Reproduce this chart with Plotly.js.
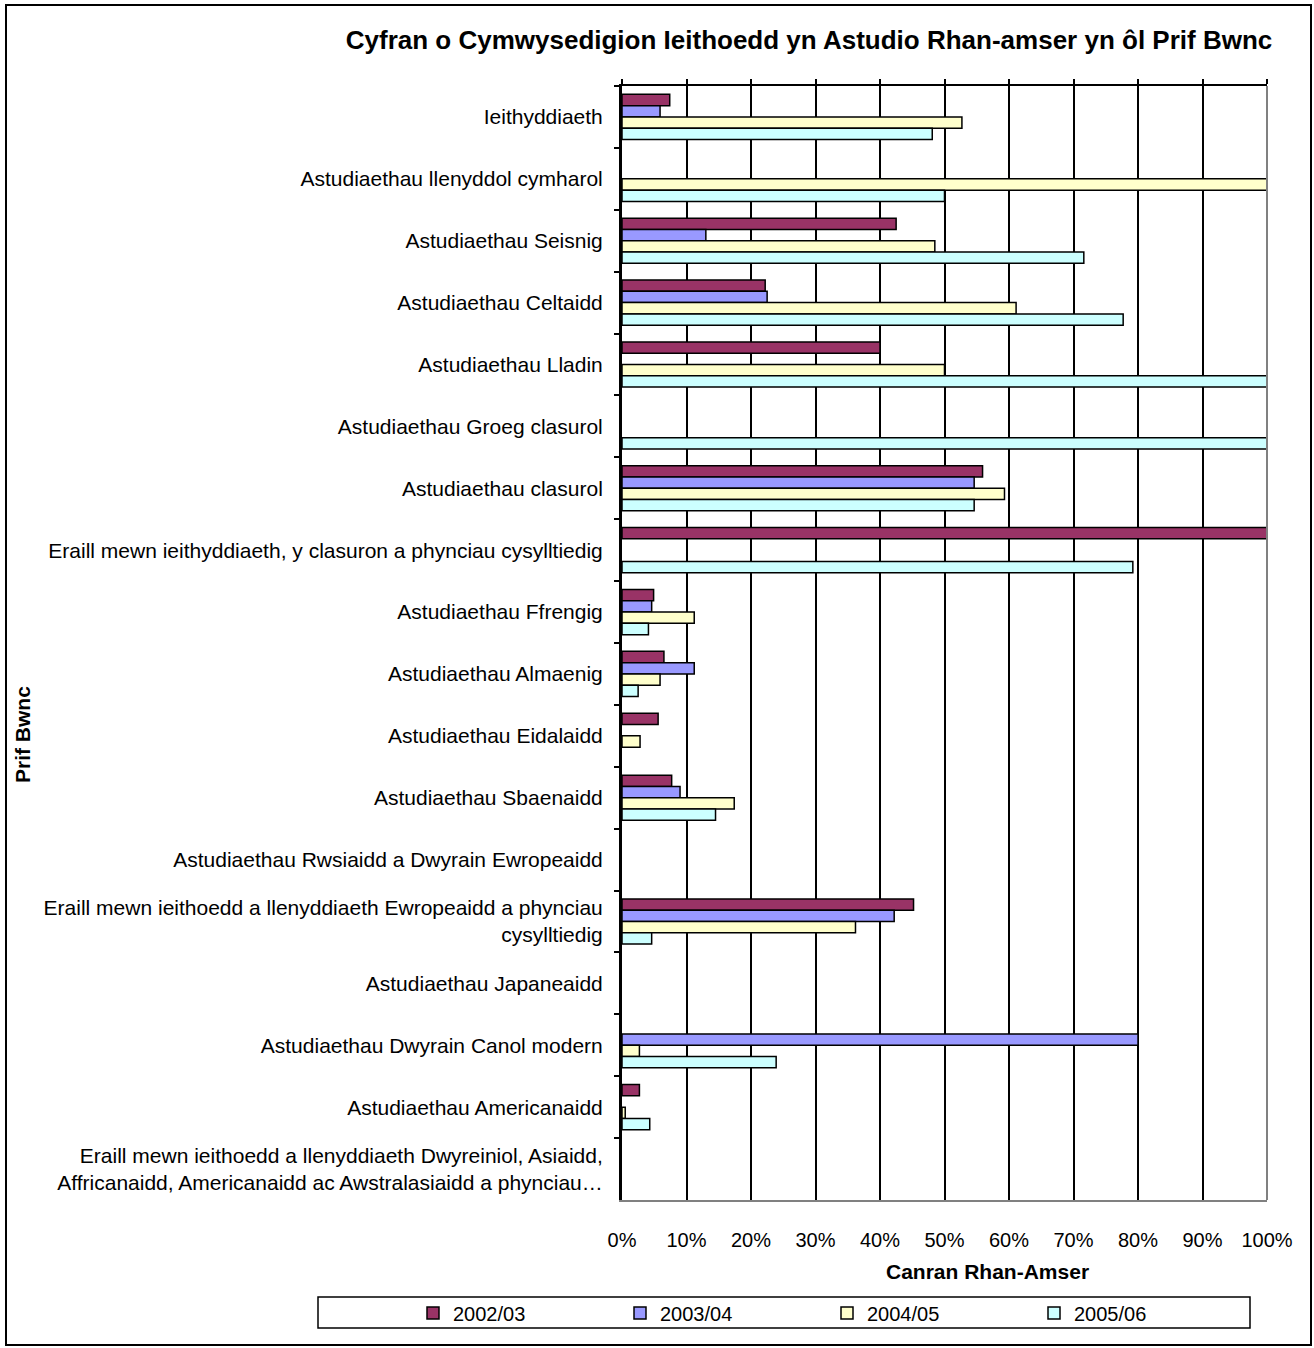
<!DOCTYPE html>
<html>
<head>
<meta charset="utf-8">
<script src="https://cdn.plot.ly/plotly-3.0.1.min.js"></script>
<style>
  html, body { margin: 0; padding: 0; background: #fff; }
  #chart { width: 1314px; height: 1348px; }
</style>
</head>
<body>
<div id="chart"></div>
<script>
const categories = [
  "Ieithyddiaeth",
  "Astudiaethau llenyddol cymharol",
  "Astudiaethau Seisnig",
  "Astudiaethau Celtaidd",
  "Astudiaethau Lladin",
  "Astudiaethau Groeg clasurol",
  "Astudiaethau clasurol",
  "Eraill mewn ieithyddiaeth, y clasuron a phynciau cysylltiedig",
  "Astudiaethau Ffrengig",
  "Astudiaethau Almaenig",
  "Astudiaethau Eidalaidd",
  "Astudiaethau Sbaenaidd",
  "Astudiaethau Rwsiaidd a Dwyrain Ewropeaidd",
  "Eraill mewn ieithoedd a llenyddiaeth Ewropeaidd a phynciau<br>cysylltiedig",
  "Astudiaethau Japaneaidd",
  "Astudiaethau Dwyrain Canol modern",
  "Astudiaethau Americanaidd",
  "Eraill mewn ieithoedd a llenyddiaeth Dwyreiniol, Asiaidd,<br>Affricanaidd, Americanaidd ac Awstralasiaidd a phynciau…"
];

const seriesNames = ["2002/03", "2003/04", "2004/05", "2005/06"];

const values2002 = [7.4, null, 42.5, 22.2, 40, null, 55.9, 100, 4.9, 6.5, 5.6, 7.7, null, 45.2, null, null, 2.7, null];
const values2003 = [5.9, null, 13, 22.5, null, null, 54.6, null, 4.6, 11.2, null, 9.0, null, 42.2, null, 80, null, null];
const values2004 = [52.7, 100, 48.5, 61.1, 50, null, 59.3, null, 11.2, 5.9, 2.8, 17.4, null, 36.2, null, 2.7, 0.5, null];
const values2005 = [48.1, 50, 71.6, 77.7, 100, 100, 54.6, 79.2, 4.1, 2.5, null, 14.5, null, 4.6, null, 23.9, 4.3, null];

const xTicks = [0, 10, 20, 30, 40, 50, 60, 70, 80, 90, 100];

const colors = ["#993366", "#9999FF", "#FFFFCC", "#CCFFFF"];
const allValues = [values2002, values2003, values2004, values2005];

const FONT = "Liberation Sans, Arial, sans-serif";

const traces = allValues.map((vals, i) => ({
  type: "bar",
  orientation: "h",
  name: seriesNames[i],
  x: vals,
  y: categories,
  marker: { color: colors[i], line: { color: "#000", width: 1.5 } },
  hoverinfo: "x+y+name"
}));

// empty trace so the top axis is drawn
traces.push({ type: "scatter", mode: "lines", x: [null], y: [categories[0]], xaxis: "x2", yaxis: "y", showlegend: false, hoverinfo: "skip" });

// geometry helpers (pixel -> paper)
const L = 622, R = 1267, T = 86, B = 1200, W = 1314, H = 1348;
const px = v => (v - L) / (R - L);
const py = v => (B - v) / (B - T);

const layout = {
  width: W, height: H,
  margin: { l: L, r: W - R, t: T, b: H - B, pad: 0, autoexpand: false },
  paper_bgcolor: "#fff",
  plot_bgcolor: "#fff",
  font: { family: FONT, size: 20, color: "#000" },
  barmode: "group",
  bargap: 0.27,
  bargroupgap: 0,
  showlegend: true,
  title: {
    text: "<b>Cyfran o Cymwysedigion Ieithoedd yn Astudio Rhan-amser yn ôl Prif Bwnc</b>",
    font: { family: FONT, size: 26, color: "#000" },
    xref: "paper", x: px(809), xanchor: "center",
    yref: "container", y: 1 - 40 / H, yanchor: "middle"
  },
  xaxis: {
    range: [0, 100],
    tickvals: xTicks,
    ticktext: xTicks.map(t => t + "%"),
    ticks: "",
    ticklabelstandoff: 21,
    showgrid: true, gridcolor: "#000", gridwidth: 1.5,
    showline: true, linecolor: "#808080", linewidth: 2,
    zeroline: false,
    tickfont: { family: FONT, size: 20, color: "#000" },
    fixedrange: true
  },
  xaxis2: {
    overlaying: "x", side: "top", anchor: "y",
    range: [0, 100],
    tickvals: xTicks,
    showticklabels: false,
    ticks: "outside", ticklen: 5, tickwidth: 1.5, tickcolor: "#000",
    showline: true, linecolor: "#000", linewidth: 2,
    showgrid: false, zeroline: false
  },
  yaxis: {
    type: "category",
    range: [categories.length - 0.5, -0.5],
    tickson: "boundaries",
    ticks: "outside", ticklen: 5, tickwidth: 2, tickcolor: "#000",
    ticklabelstandoff: 12,
    showline: true, linecolor: "#000", linewidth: 3,
    showgrid: false, zeroline: false,
    tickfont: { family: FONT, size: 21, color: "#000" },
    fixedrange: true
  },
  legend: {
    orientation: "h",
    xref: "paper", yref: "paper",
    x: px(413), xanchor: "left",
    y: py(1313), yanchor: "middle",
    bgcolor: "rgba(0,0,0,0)",
    borderwidth: 0,
    font: { family: FONT, size: 20, color: "#000" },
    entrywidth: 162, entrywidthmode: "pixels",
    itemwidth: 30,
    traceorder: "normal"
  },
  annotations: [
    {
      text: "<b>Prif Bwnc</b>", textangle: -90,
      xref: "paper", yref: "paper", x: px(22), y: py(735),
      xanchor: "center", yanchor: "middle", showarrow: false,
      font: { family: FONT, size: 21, color: "#000" }
    },
    {
      text: "<b>Canran Rhan-Amser</b>",
      xref: "paper", yref: "paper", x: px(987), y: py(1271),
      xanchor: "center", yanchor: "middle", showarrow: false,
      font: { family: FONT, size: 21, color: "#000" }
    }
  ],
  shapes: [
    // right border of plot area
    { type: "line", xref: "paper", yref: "paper", x0: 1, x1: 1, y0: 0, y1: 1, line: { color: "#808080", width: 2 }, layer: "above" },
    // legend box
    { type: "rect", xref: "paper", yref: "paper", x0: px(318), x1: px(1250), y0: py(1297), y1: py(1328), line: { color: "#000", width: 1.5 }, layer: "below" },
    // outer chart border
    { type: "rect", xref: "paper", yref: "paper", x0: px(6), x1: px(1311), y0: py(5), y1: py(1345), line: { color: "#000", width: 2 }, layer: "below" }
  ]
};

Plotly.newPlot("chart", traces, layout, { displayModeBar: false, responsive: false });
</script>
</body>
</html>
